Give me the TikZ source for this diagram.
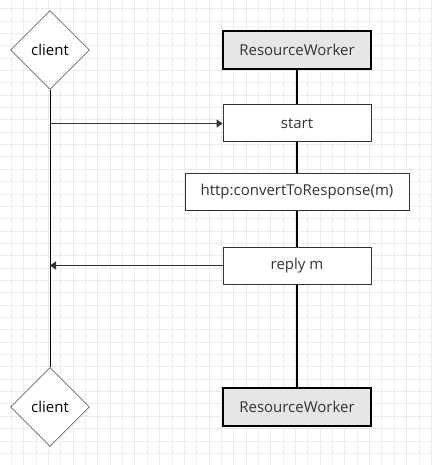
\documentclass[tikz,border=0pt]{standalone}
\usepackage{fontspec}
\setmainfont{Open Sans}
\usepackage{xcolor}
\usepackage{tikz}
\usetikzlibrary{shapes.geometric}
\usetikzlibrary{arrows.meta}
\usetikzlibrary{calc}

\definecolor{gridgray}{HTML}{EBEBEB}
\definecolor{inkgray}{HTML}{333333}
\definecolor{boxgray}{HTML}{E6E6E6}

\begin{document}
\begin{tikzpicture}[x=1pt,y=-1pt,
    font=\fontsize{15}{18}\selectfont,
    actor/.style={diamond,aspect=1,draw=black,fill=white,inner sep=0pt,minimum size=79pt,text=black},
    worker/.style={rectangle,draw=black,line width=2pt,fill=boxgray,minimum width=148pt,minimum height=38pt,text=inkgray},
    activity/.style={rectangle,draw=inkgray,line width=1pt,fill=white,minimum height=37pt,text=inkgray},
    msg/.style={draw=inkgray,line width=1.2pt,-{Triangle[length=6pt,width=8pt]}}]
\begin{scope}
    % background and grid
    \fill[white] (0,0) rectangle (432,465);
    \useasboundingbox (0,0) rectangle (432,465);
    \foreach \i in {0,...,34}
        \draw[gridgray,line width=0.8pt] ({11.35+12.35*\i},0) -- ({11.35+12.35*\i},465);
    \foreach \j in {0,...,36}
        \draw[gridgray,line width=0.8pt] (0,{8.65+12.35*\j}) -- (432,{8.65+12.35*\j});

    % lifelines heads and tails
    \node[actor] (clientTop) at (50,50) {client};
    \node[actor] (clientBot) at (50,407) {client};
    \node[worker] (workerTop) at (297,50) {ResourceWorker};
    \node[worker] (workerBot) at (297,407) {ResourceWorker};

    % activities
    \node[activity,minimum width=148pt] (start) at (297,123.5) {start};
    \node[activity,minimum width=224pt] (convert) at (297,191.5) {http:convertToResponse(m)};
    \node[activity,minimum width=148pt] (reply) at (297,265.5) {reply m};

    %\draw (clientTop.south) node {$\bullet$};
    \draw[black,line width=1pt] (clientTop.south) -- (clientBot.north);
    \draw[black,line width=2pt] (workerTop) -- (start);
    \draw[black,line width=2pt] (start) -- (convert);
    \draw[black,line width=2pt] (convert) -- (reply);
    \draw[black,line width=2pt] (reply) -- (workerBot);

    % messages
    \coordinate (callFrom) at (clientTop.south |- start.west);
    \coordinate (replyTo) at (clientTop.south |- reply.west);
    \draw[msg] (callFrom) -- (start.west);
    \draw[msg] (reply.west) -- (replyTo);
\end{scope}
\end{tikzpicture}
\end{document}
